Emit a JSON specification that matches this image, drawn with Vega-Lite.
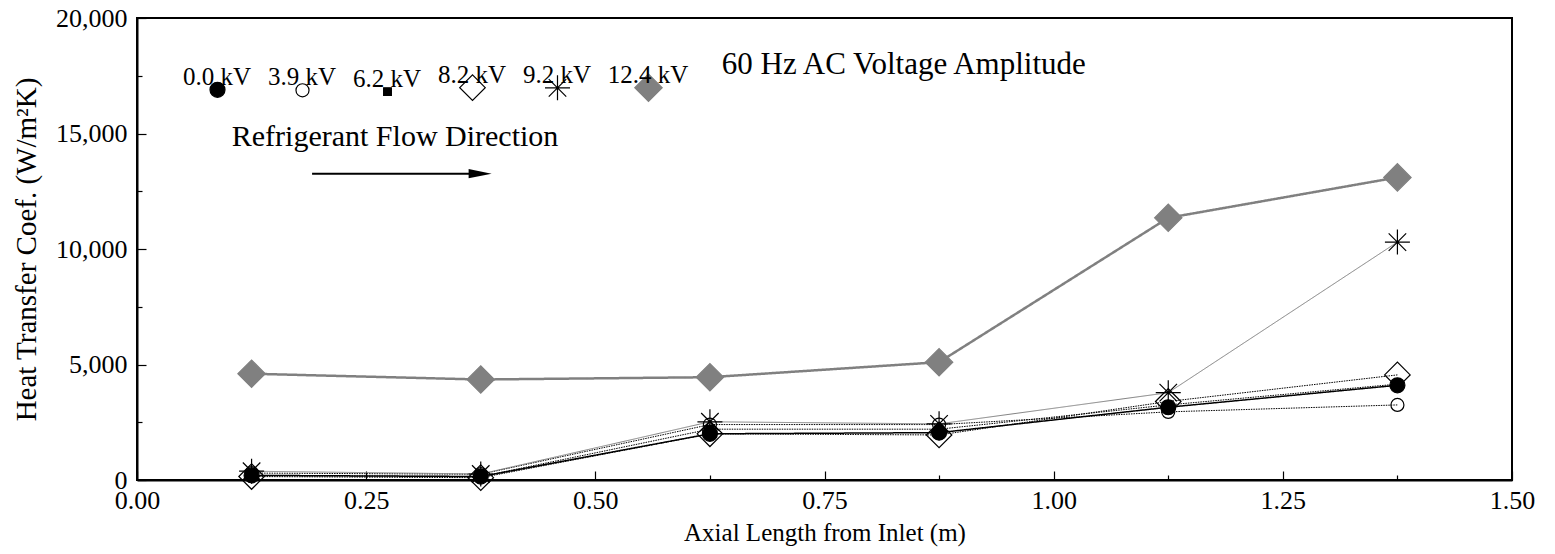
{
  "$schema": "https://vega.github.io/schema/vega-lite/v6.json",
  "autosize": {"type": "none"},
  "padding": {"left": 137, "top": 18, "right": 43, "bottom": 74},
  "width": 1375,
  "height": 462,
  "background": "white",
  "config": {
    "font": "Liberation Serif",
    "view": {"stroke": "black", "strokeWidth": 2},
    "axis": {"domainColor": "black", "domainWidth": 2, "tickColor": "black", "tickWidth": 1.2, "labelColor": "black", "titleColor": "black", "grid": false, "labelFont": "Liberation Serif", "titleFont": "Liberation Serif", "titleFontWeight": "normal"},
    "legend": {"labelFont": "Liberation Serif"}
  },
  "data": {
    "values": [
      {"series": "0.0 kV", "x": 0.125, "h": 200},
      {"series": "0.0 kV", "x": 0.375, "h": 150},
      {"series": "0.0 kV", "x": 0.625, "h": 2000},
      {"series": "0.0 kV", "x": 0.875, "h": 2050},
      {"series": "0.0 kV", "x": 1.125, "h": 3150},
      {"series": "0.0 kV", "x": 1.375, "h": 4100},
      {"series": "3.9 kV", "x": 0.125, "h": 300},
      {"series": "3.9 kV", "x": 0.375, "h": 250},
      {"series": "3.9 kV", "x": 0.625, "h": 2400},
      {"series": "3.9 kV", "x": 0.875, "h": 2400},
      {"series": "3.9 kV", "x": 1.125, "h": 2950},
      {"series": "3.9 kV", "x": 1.375, "h": 3250},
      {"series": "6.2 kV", "x": 0.125, "h": 200},
      {"series": "6.2 kV", "x": 0.375, "h": 150},
      {"series": "6.2 kV", "x": 0.625, "h": 2200},
      {"series": "6.2 kV", "x": 0.875, "h": 2200},
      {"series": "6.2 kV", "x": 1.125, "h": 3250},
      {"series": "6.2 kV", "x": 1.375, "h": 4150},
      {"series": "8.2 kV", "x": 0.125, "h": 150},
      {"series": "8.2 kV", "x": 0.375, "h": 100},
      {"series": "8.2 kV", "x": 0.625, "h": 2000},
      {"series": "8.2 kV", "x": 0.875, "h": 1950},
      {"series": "8.2 kV", "x": 1.125, "h": 3400},
      {"series": "8.2 kV", "x": 1.375, "h": 4550},
      {"series": "9.2 kV", "x": 0.125, "h": 380},
      {"series": "9.2 kV", "x": 0.375, "h": 260},
      {"series": "9.2 kV", "x": 0.625, "h": 2520},
      {"series": "9.2 kV", "x": 0.875, "h": 2430},
      {"series": "9.2 kV", "x": 1.125, "h": 3780},
      {"series": "9.2 kV", "x": 1.375, "h": 10300},
      {"series": "12.4 kV", "x": 0.125, "h": 4600},
      {"series": "12.4 kV", "x": 0.375, "h": 4350},
      {"series": "12.4 kV", "x": 0.625, "h": 4450},
      {"series": "12.4 kV", "x": 0.875, "h": 5100},
      {"series": "12.4 kV", "x": 1.125, "h": 11350},
      {"series": "12.4 kV", "x": 1.375, "h": 13100}
    ]
  },
  "encoding": {
    "x": {
      "field": "x", "type": "quantitative",
      "scale": {"domain": [0, 1.5], "nice": false, "zero": false},
      "axis": {
        "title": "Axial Length from Inlet (m)",
        "titleFontSize": 25,
        "titlePadding": 3,
        "labelFontSize": 26,
        "values": [0, 0.125, 0.25, 0.375, 0.5, 0.625, 0.75, 0.875, 1, 1.125, 1.25, 1.375, 1.5],
        "labelExpr": "abs(datum.value*4 - round(datum.value*4)) < 0.001 ? format(datum.value, '.2f') : ''",
        "tickSize": {"condition": {"test": "abs(datum.value*4 - round(datum.value*4)) < 0.001", "value": -9}, "value": -5},
        "labelPadding": 16,
        "labelFlush": false,
        "labelOverlap": false
      }
    },
    "y": {
      "field": "h", "type": "quantitative",
      "scale": {"domain": [0, 20000], "nice": false},
      "axis": {
        "title": "Heat Transfer Coef. (W/m²K)",
        "titleFontSize": 29,
        "titlePadding": 14,
        "labelFontSize": 26,
        "values": [0, 2500, 5000, 7500, 10000, 12500, 15000, 17500, 20000],
        "labelExpr": "datum.value % 5000 == 0 ? format(datum.value, ',') : ''",
        "tickSize": {"condition": {"test": "datum.value % 5000 == 0", "value": -9}, "value": -5},
        "labelPadding": 19,
        "labelFlush": false,
        "labelOverlap": false
      }
    }
  },
  "layer": [
    {
      "mark": {"type": "line"},
      "encoding": {
        "color": {"field": "series", "type": "nominal", "legend": null,
          "sort": ["0.0 kV", "3.9 kV", "6.2 kV", "8.2 kV", "9.2 kV", "12.4 kV"],
          "scale": {"range": ["black", "black", "black", "black", "#808080", "#808080"]}},
        "strokeDash": {"field": "series", "type": "nominal", "legend": null,
          "sort": ["0.0 kV", "3.9 kV", "6.2 kV", "8.2 kV", "9.2 kV", "12.4 kV"],
          "scale": {"range": [[1, 0], [1.5, 1], [1.5, 1], [1.5, 1], [1, 0], [1, 0]]}},
        "strokeWidth": {"field": "series", "type": "nominal", "legend": null,
          "sort": ["0.0 kV", "3.9 kV", "6.2 kV", "8.2 kV", "9.2 kV", "12.4 kV"],
          "scale": {"type": "ordinal", "range": [1.5, 1, 1, 1, 1, 2.5]}}
      }
    },
    {
      "mark": {"type": "point", "opacity": 1, "strokeWidth": 1.2},
      "encoding": {
        "shape": {"field": "series", "type": "nominal",
          "scale": {"domain": ["0.0 kV", "3.9 kV", "6.2 kV", "8.2 kV", "9.2 kV", "12.4 kV"], "range": ["circle", "circle", "square", "diamond", "M-1,0L1,0M0,-1L0,1M-0.7,-0.7L0.7,0.7M-0.7,0.7L0.7,-0.7", "diamond"]},
          "legend": {
            "title": null, "orient": "none", "legendX": 66, "legendY": 55, "direction": "horizontal", "columns": 6,
            "labelFontSize": 25, "labelColor": "black",
            "labelBaseline": "bottom", "labelAlign": "center", "labelOffset": -15,
            "columnPadding": 15, "symbolStrokeWidth": 1.2
          }},
        "fill": {"field": "series", "type": "nominal",
          "scale": {"domain": ["0.0 kV", "3.9 kV", "6.2 kV", "8.2 kV", "9.2 kV", "12.4 kV"], "range": ["black", "transparent", "black", "transparent", "transparent", "#808080"]}},
        "stroke": {"field": "series", "type": "nominal",
          "scale": {"domain": ["0.0 kV", "3.9 kV", "6.2 kV", "8.2 kV", "9.2 kV", "12.4 kV"], "range": ["black", "black", "black", "black", "black", "#808080"]}},
        "size": {"field": "series", "type": "nominal",
          "scale": {"type": "ordinal", "domain": ["0.0 kV", "3.9 kV", "6.2 kV", "8.2 kV", "9.2 kV", "12.4 kV"], "range": [225, 170, 60, 650, 625, 750]}}
      }
    },
    {
      "transform": [{"filter": "datum.series == '0.0 kV' && datum.x == 0.125"}],
      "mark": {"type": "text", "align": "left", "baseline": "middle", "fontSize": 31, "font": "Liberation Serif", "color": "black"},
      "encoding": {"x": {"datum": 0.638}, "y": {"datum": 17950}, "text": {"value": "60 Hz AC Voltage Amplitude"}}
    },
    {
      "transform": [{"filter": "datum.series == '0.0 kV' && datum.x == 0.125"}],
      "mark": {"type": "text", "align": "center", "baseline": "middle", "fontSize": 30, "font": "Liberation Serif", "color": "black"},
      "encoding": {"x": {"datum": 0.2815}, "y": {"datum": 14870}, "text": {"value": "Refrigerant Flow Direction"}}
    },
    {
      "transform": [{"filter": "datum.series == '0.0 kV' && datum.x == 0.125"}],
      "mark": {"type": "rule", "color": "black", "strokeWidth": 2},
      "encoding": {"x": {"datum": 0.191}, "x2": {"datum": 0.37}, "y": {"datum": 13260}}
    },
    {
      "transform": [{"filter": "datum.series == '0.0 kV' && datum.x == 0.125"}],
      "mark": {"type": "point", "shape": "M-1,-0.4L1,0L-1,0.4Z", "filled": true, "color": "black", "size": 529, "opacity": 1},
      "encoding": {"x": {"datum": 0.3743}, "y": {"datum": 13260}}
    }
  ]
}
